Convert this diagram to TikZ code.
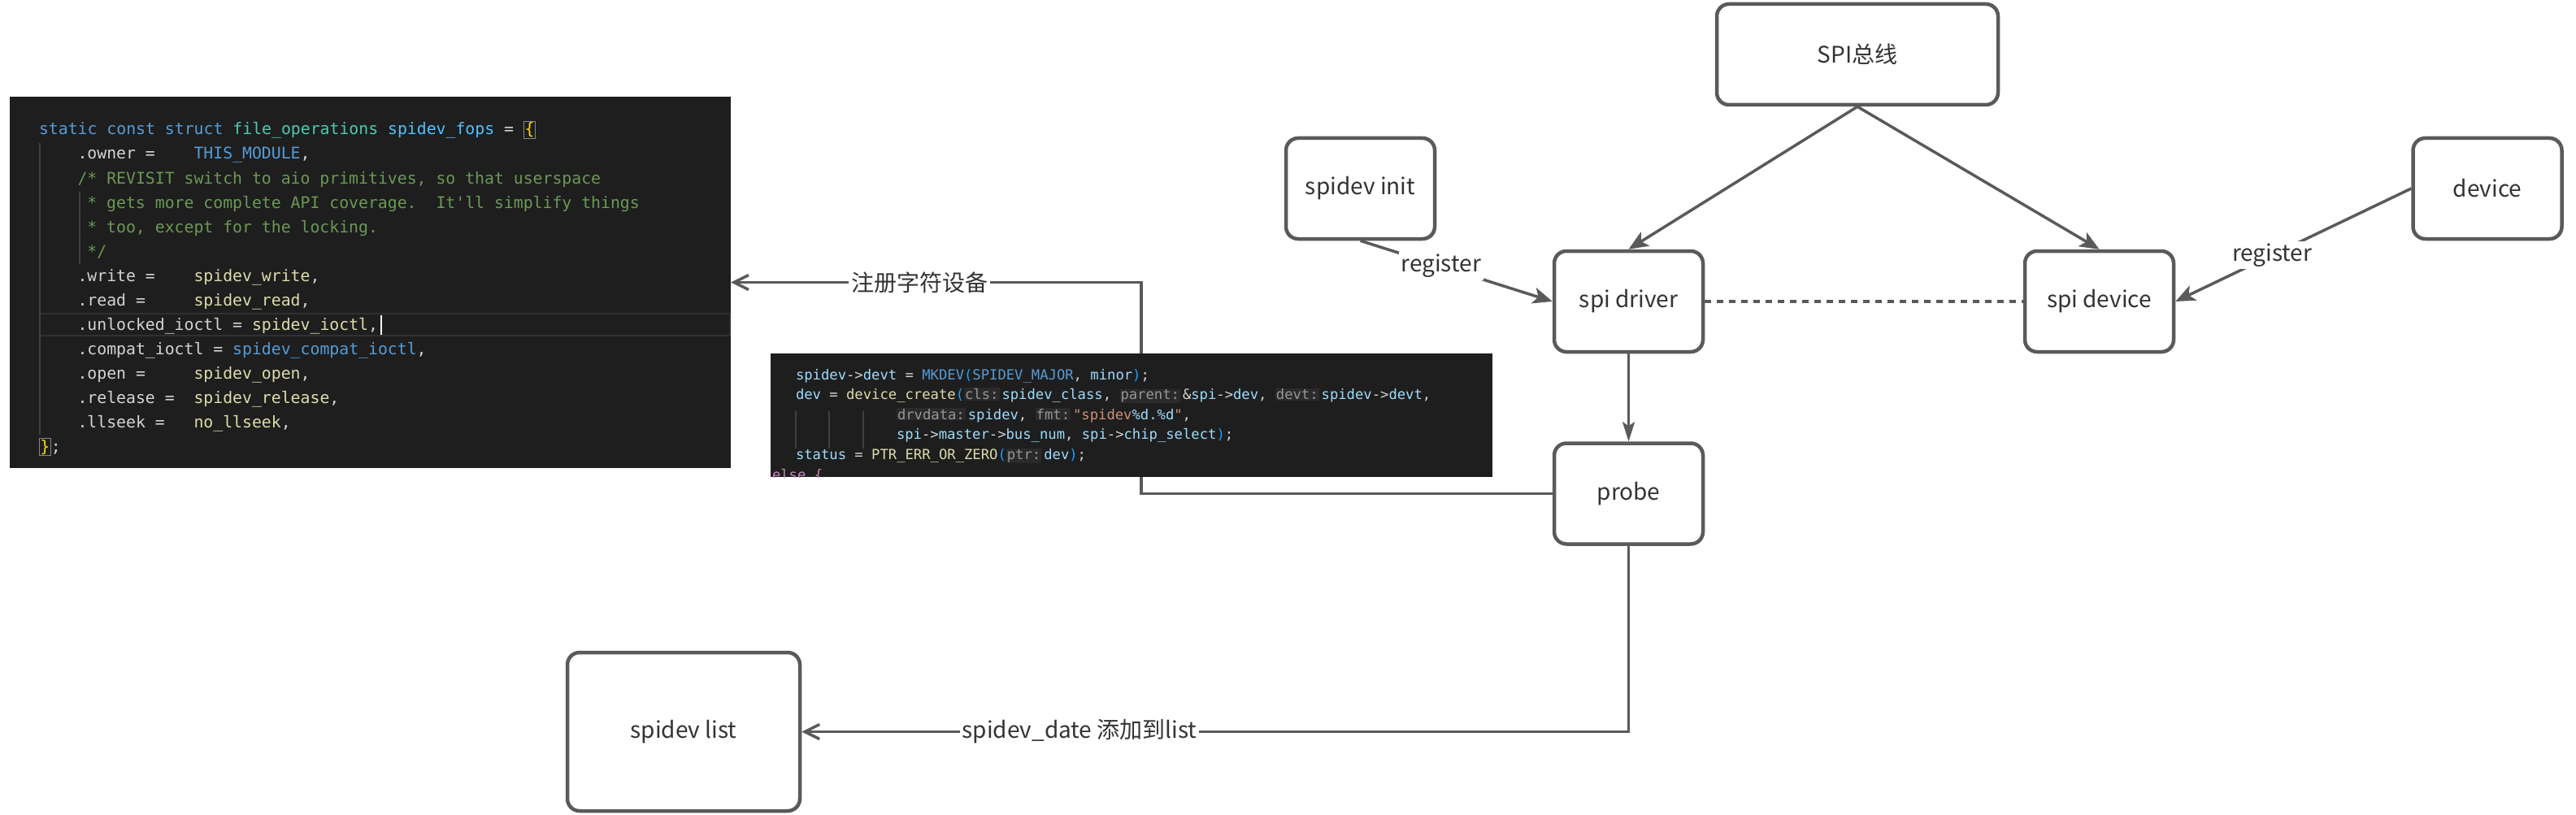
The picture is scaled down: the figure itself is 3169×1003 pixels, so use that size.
\documentclass[tikz,border=0pt]{standalone}
\usepackage{fontspec}
\setmonofont{DejaVu Sans Mono}
\newfontfamily\cjk{Noto Sans CJK SC}
\usetikzlibrary{arrows.meta}
\definecolor{lc}{HTML}{5A5A5A}
\definecolor{tc}{HTML}{333333}
\definecolor{codebg}{HTML}{1E1E1E}
\definecolor{ckw}{HTML}{569CD6}
\definecolor{cty}{HTML}{4EC9B0}
\definecolor{cvar}{HTML}{9CDCFE}
\definecolor{cconst}{HTML}{4FC1FF}
\definecolor{cfn}{HTML}{DCDCAA}
\definecolor{ccom}{HTML}{6A9955}
\definecolor{cstr}{HTML}{CE9178}
\definecolor{cplain}{HTML}{D4D4D4}
\definecolor{cbone}{HTML}{FFD700}
\definecolor{cbthree}{HTML}{179FFF}
\definecolor{cctl}{HTML}{C586C0}
\definecolor{hintbg}{HTML}{2A2A2A}
\definecolor{hintfg}{HTML}{969696}
\definecolor{guide}{HTML}{404040}
\definecolor{curline}{HTML}{303030}
\definecolor{bracketbox}{HTML}{888888}

\newcommand\lblfont{\cjk\fontsize{28}{34}\selectfont}
\newcommand\codeA{\ttfamily\fontsize{19.8}{30}\selectfont\frenchspacing}
\newcommand\codeB{\ttfamily\fontsize{17.2}{24.6}\selectfont\frenchspacing}
\newcommand\KW[1]{\textcolor{ckw}{#1}}
\newcommand\TY[1]{\textcolor{cty}{#1}}
\newcommand\VA[1]{\textcolor{cvar}{#1}}
\newcommand\CO[1]{\textcolor{cconst}{#1}}
\newcommand\FN[1]{\textcolor{cfn}{#1}}
\newcommand\CM[1]{\textcolor{ccom}{#1}}
\newcommand\ST[1]{\textcolor{cstr}{#1}}
\newcommand\CT[1]{\textcolor{cctl}{#1}}
\newcommand\BB[1]{\textcolor{cbthree}{#1}}
\newcommand\BY[1]{\textcolor{cbone}{#1}}
\newcommand\bbox[1]{{\setlength\fboxsep{0.5pt}\setlength\fboxrule{1pt}\fcolorbox{bracketbox}{codebg}{\textcolor{cbone}{#1}}}}
\newcommand\hint[1]{{\setlength\fboxsep{1pt}\colorbox{hintbg}{\textcolor{hintfg}{#1}}}\hspace{3pt}}

\tikzset{
  box/.style={draw=lc, line width=4.5pt, rounded corners=15pt, fill=white,
    text=tc, font=\lblfont, minimum width=183pt, minimum height=124pt, inner sep=0pt},
  lab/.style={fill=white, text=tc, font=\lblfont, inner sep=3pt},
  conn/.style={draw=lc, line width=3.5pt},
  arr/.style={conn, -{Stealth[length=24pt,width=20pt,inset=6pt]}},
  arrn/.style={conn, line width=3pt, -{Stealth[length=24pt,width=15pt,inset=5pt]}},
  arrc/.style={conn, -{Straight Barb[length=18pt,width=18pt]}},
  codeline/.style={anchor=base west, inner sep=0pt, outer sep=0pt, text=cplain},
  codea/.style={codeline, font=\codeA},
  codeb/.style={codeline, font=\codeB},
  codebox/.style={fill=codebg, draw=none, inner sep=0pt, outer sep=0pt},
}

\begin{document}
\begin{tikzpicture}[x=1pt,y=-1pt]
\fill[white] (0,0) rectangle (3169,1003);
\useasboundingbox (0,0) rectangle (3169,1003);

% ---------- code block 1 ----------
\node[codebox, minimum width=887pt, minimum height=457pt] (code1) at (455.5,347.5) {};
\draw[curline, line width=2pt] (49,386) rectangle (898,413);
\draw[guide, line width=1.5pt] (49,176) -- (49,535);
\draw[guide, line width=1.5pt] (98,236) -- (98,325);
\node[codea] (a0) at (48,166) {\KW{static const struct} \TY{file\_operations} \CO{spidev\_fops} = \bbox{\{}};
\node[codea] (a1) at (95.5,196) {.owner =~~~~\KW{THIS\_MODULE},};
\node[codea] (a2) at (95.5,226) {\CM{/* REVISIT switch to aio primitives, so that userspace}};
\node[codea] (a3) at (107.4,256) {\CM{* gets more complete API coverage.~~It'll simplify things}};
\node[codea] (a4) at (107.4,286) {\CM{* too, except for the locking.}};
\node[codea] (a5) at (107.4,316) {\CM{*/}};
\node[codea] (a6) at (95.5,346) {.write =~~~~\FN{spidev\_write},};
\node[codea] (a7) at (95.5,376) {.read =~~~~~\FN{spidev\_read},};
\node[codea] (a8) at (95.5,406) {.unlocked\_ioctl = \FN{spidev\_ioctl},};
\node[codea] (a9) at (95.5,436) {.compat\_ioctl = \KW{spidev\_compat\_ioctl},};
\node[codea] (a10) at (95.5,466) {.open =~~~~~\FN{spidev\_open},};
\node[codea] (a11) at (95.5,496) {.release =~~\FN{spidev\_release},};
\node[codea] (a12) at (95.5,526) {.llseek =~~~\FN{no\_llseek},};
\node[codea] (a13) at (48,556) {\bbox{\}};};
\draw[white, line width=1.3pt] (469,388) -- (469,412);

% ---------- diagram boxes ----------
\node[box, minimum width=346pt] (bus) at (2285,67) {SPI总线};
\node[box] (init) at (1673.5,232) {spidev init};
\node[box] (drv) at (2003.5,371) {spi driver};
\node[box] (sdev) at (2582.5,371) {spi device};
\node[box] (dev) at (3060,232) {device};
\node[box] (probe) at (2003.5,607.5) {probe};
\node[box, minimum width=286pt, minimum height=195pt] (list) at (841,900.5) {spidev list};

% ---------- connectors ----------
\draw[arr] (bus.south) -- (drv.north);
\draw[arr] (bus.south) -- (sdev.north);
\draw[arr] (init.south) -- node[lab, pos=0.42] (reg1) {register} (drv.west);
\draw[arr] (dev.west) -- node[lab, pos=0.59] (reg2) {register} (sdev.east);
\draw[conn, dash pattern=on 8pt off 7pt] (drv.east) -- (sdev.west);
\draw[arrn] (drv.south) -- (probe.north);
\coordinate (pbend) at (1404,607.5);
\draw[arrc] (probe.west) -- (pbend) |- node[lab, pos=0.77] (regc) {注册字符设备} (code1.east);
\draw[arrc] (probe.south) |- node[lab, pos=0.832] (addl) {spidev\_date 添加到list} (list.east);

% ---------- code block 2 ----------
\node[codebox, minimum width=888pt, minimum height=152pt] (code2) at (1392,511) {};
\begin{scope}
\clip (948,435) rectangle (1836,587);
\draw[guide, line width=1.5pt] (979,506) -- (979,552);
\draw[guide, line width=1.5pt] (1020,506) -- (1020,552);
\draw[guide, line width=1.5pt] (1062,506) -- (1062,552);
\node[codeb] (b0) at (979,467) {\VA{spidev}->\VA{devt} = \KW{MKDEV}\BB{(}\KW{SPIDEV\_MAJOR}, \VA{minor}\BB{)};};
\node[codeb] (b1) at (979,491.6) {\VA{dev} = \FN{device\_create}\BB{(}\hint{cls:}\VA{spidev\_class}, \hint{parent:}\&\VA{spi}->\VA{dev}, \hint{devt:}\VA{spidev}->\VA{devt},};
\node[codeb] (b2) at (1103,516.2) {\hint{drvdata:}\VA{spidev}, \hint{fmt:}\ST{"spidev}\VA{\%d.\%d}\ST{"},};
\node[codeb] (b3) at (1103,540.8) {\VA{spi}->\VA{master}->\VA{bus\_num}, \VA{spi}->\VA{chip\_select}\BB{)};};
\node[codeb] (b4) at (979,565.4) {\VA{status} = \FN{PTR\_ERR\_OR\_ZERO}\BB{(}\hint{ptr:}\VA{dev}\BB{)};};
\node[codeb] (b5) at (950,590) {\CT{else} \CT{\{}};
\end{scope}
\end{tikzpicture}
\end{document}
